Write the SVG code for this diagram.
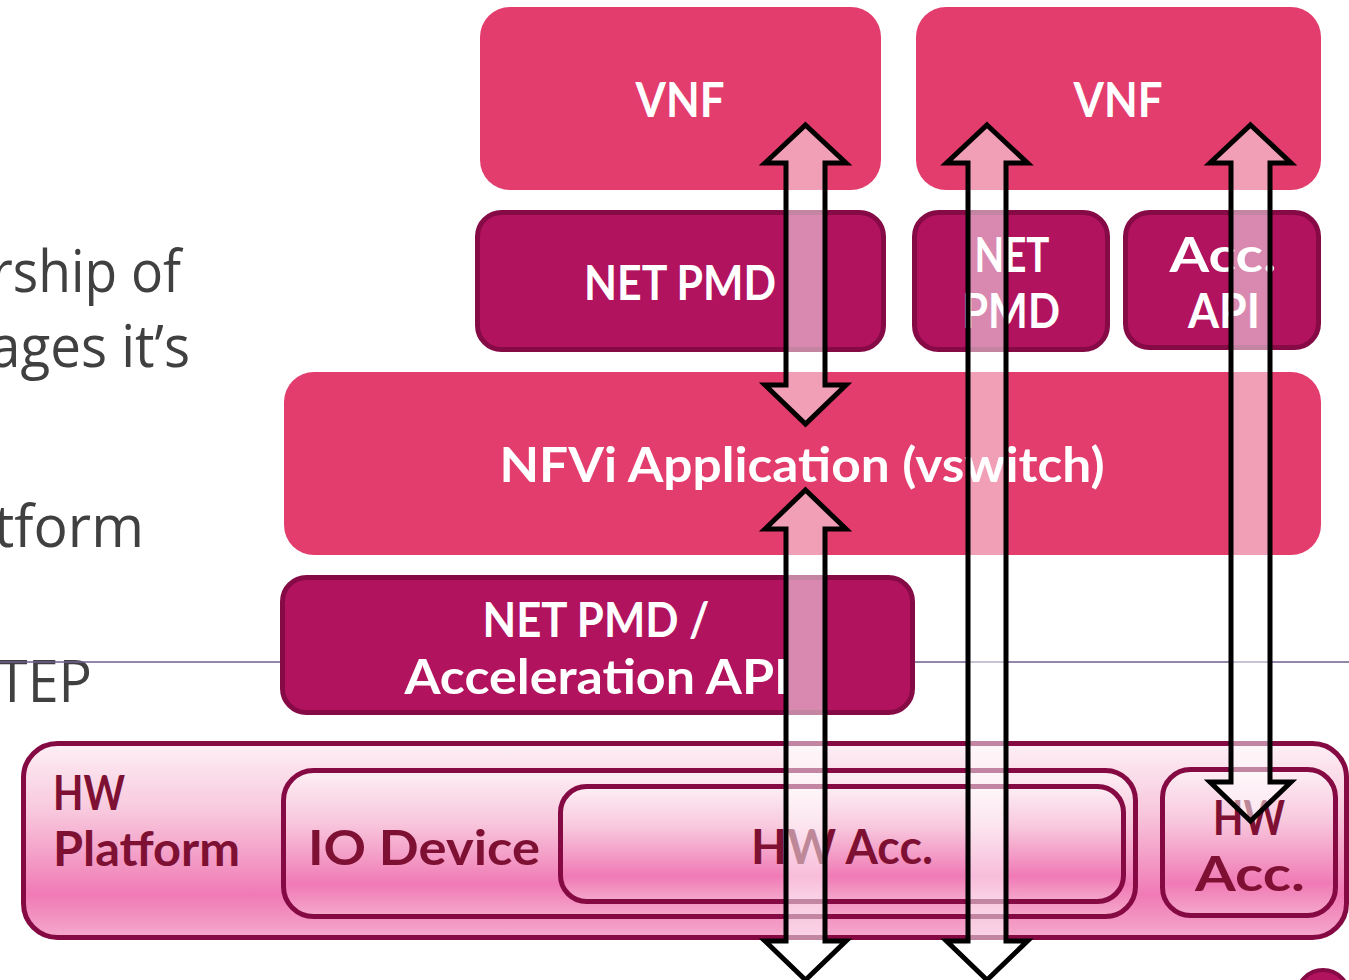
<svg xmlns="http://www.w3.org/2000/svg" width="1349" height="980" viewBox="0 0 1349 980">
  <defs>
    <linearGradient id="glass" x1="0" y1="0" x2="0" y2="1">
      <stop offset="0" stop-color="#FDEFF5"/>
      <stop offset="0.35" stop-color="#F8C8DD"/>
      <stop offset="0.78" stop-color="#F07AB5"/>
      <stop offset="1" stop-color="#F5A9CC"/>
    </linearGradient>
    <style>
      .bg-text { font-family: "Open Sans", "Liberation Sans", sans-serif; font-size: 58px; fill: #404040; }
      .layer { fill: #E33D6E; }
      .driver { fill: #B2135F; stroke: #860A45; stroke-width: 5; }
      .hw { fill: url(#glass); stroke: #850A44; stroke-width: 5; }
      .label { font-family: Lato, "Liberation Sans", sans-serif; font-weight: bold; font-size: 47px; fill: #FFFFFF; text-anchor: middle; }
      .hw-label { font-family: Lato, "Liberation Sans", sans-serif; font-weight: bold; font-size: 47px; fill: #7E1133; }
      .flow { fill: #FFFFFF; fill-opacity: 0.5; stroke: #000000; stroke-width: 5; stroke-linejoin: miter; }
    </style>
  </defs>

  <rect width="1349" height="980" fill="#FFFFFF"/>

  <!-- slide body text behind the stack -->
  <g id="body-text">
    <text class="bg-text" x="181" y="292" text-anchor="end" textLength="190" lengthAdjust="spacingAndGlyphs">rship of</text>
    <text class="bg-text" x="190" y="367" text-anchor="end" textLength="200" lengthAdjust="spacingAndGlyphs">ages it’s</text>
    <text class="bg-text" x="144" y="547" text-anchor="end" textLength="150" lengthAdjust="spacingAndGlyphs">tform</text>
    <text class="bg-text" x="92" y="702" text-anchor="end" textLength="95" lengthAdjust="spacingAndGlyphs">TEP</text>
    <line x1="0" y1="662" x2="1349" y2="662" stroke="#6E5F8E" stroke-width="1.5"/>
  </g>

  <g id="vnf-1">
    <rect class="layer" x="480" y="7" width="401" height="183" rx="30"/>
    <text class="label" x="680" y="117" textLength="89" lengthAdjust="spacingAndGlyphs">VNF</text>
  </g>
  <g id="vnf-2">
    <rect class="layer" x="916" y="7" width="405" height="183" rx="30"/>
    <text class="label" x="1118" y="117" textLength="89" lengthAdjust="spacingAndGlyphs">VNF</text>
  </g>

  <g id="net-pmd-1">
    <rect class="driver" x="477.5" y="212.5" width="406" height="137" rx="24"/>
    <text class="label" x="680" y="300" textLength="192" lengthAdjust="spacingAndGlyphs">NET PMD</text>
  </g>
  <g id="net-pmd-2">
    <rect class="driver" x="914.5" y="212.5" width="193" height="137" rx="24"/>
    <text class="label" x="1012" y="272" textLength="75" lengthAdjust="spacingAndGlyphs">NET</text>
    <text class="label" x="1011" y="328" textLength="98" lengthAdjust="spacingAndGlyphs">PMD</text>
  </g>
  <g id="acc-api">
    <rect class="driver" x="1125.5" y="212.5" width="193" height="135" rx="24"/>
    <text class="label" x="1223" y="272" textLength="107" lengthAdjust="spacingAndGlyphs">Acc.</text>
    <text class="label" x="1224" y="328" textLength="72" lengthAdjust="spacingAndGlyphs">API</text>
  </g>

  <g id="nfvi-application">
    <rect class="layer" x="284" y="372" width="1037" height="183" rx="30"/>
    <text class="label" x="802" y="482" textLength="605" lengthAdjust="spacingAndGlyphs">NFVi Application (vswitch)</text>
  </g>

  <g id="net-pmd-acceleration-api">
    <rect class="driver" x="282.5" y="577.5" width="630" height="135" rx="24"/>
    <text class="label" x="596" y="637" textLength="227" lengthAdjust="spacingAndGlyphs">NET PMD /</text>
    <text class="label" x="597" y="694" textLength="385" lengthAdjust="spacingAndGlyphs">Acceleration API</text>
  </g>

  <g id="hw-platform">
    <rect class="hw" x="23.5" y="743.5" width="1323" height="194" rx="34"/>
    <text class="hw-label" x="53" y="810" textLength="72" lengthAdjust="spacingAndGlyphs">HW</text>
    <text class="hw-label" x="53" y="866" textLength="187" lengthAdjust="spacingAndGlyphs">Platform</text>
  </g>
  <g id="io-device">
    <rect class="hw" x="283.5" y="770.5" width="852" height="146" rx="30"/>
    <text class="hw-label" x="308" y="865" textLength="232" lengthAdjust="spacingAndGlyphs">IO Device</text>
  </g>
  <g id="hw-acc-io">
    <rect class="hw" x="560.5" y="786.5" width="563" height="115" rx="26"/>
    <text class="hw-label" x="751" y="864" textLength="182" lengthAdjust="spacingAndGlyphs">HW Acc.</text>
  </g>
  <g id="hw-acc">
    <rect class="hw" x="1162.5" y="769.5" width="173" height="146" rx="28"/>
    <text class="hw-label" x="1249" y="835" text-anchor="middle" textLength="72" lengthAdjust="spacingAndGlyphs">HW</text>
    <text class="hw-label" x="1250" y="891" text-anchor="middle" textLength="110" lengthAdjust="spacingAndGlyphs">Acc.</text>
  </g>

  <g id="page-marker">
    <circle cx="1323" cy="996" r="26" fill="#B2135F" stroke="#860A45" stroke-width="4"/>
  </g>

  <!-- double-headed data paths, drawn over the stack -->
  <g id="connectors">
    <path class="flow" d="M805.5,125 L846,163 L825,163 L825,385 L846,385 L805.5,424 L765,385 L786,385 L786,163 L765,163 Z"/>
    <path class="flow" d="M805.5,490 L846,529 L825,529 L825,941 L846,941 L805.5,980 L765,941 L786,941 L786,529 L765,529 Z"/>
    <path class="flow" d="M987,125 L1027.5,163 L1006,163 L1006,941 L1027.5,941 L987,980 L946.5,941 L968,941 L968,163 L946.5,163 Z"/>
    <path class="flow" d="M1250.5,125 L1291,163 L1270,163 L1270,782 L1291,782 L1250.5,821 L1210,782 L1231,782 L1231,163 L1210,163 Z"/>
  </g>
</svg>
